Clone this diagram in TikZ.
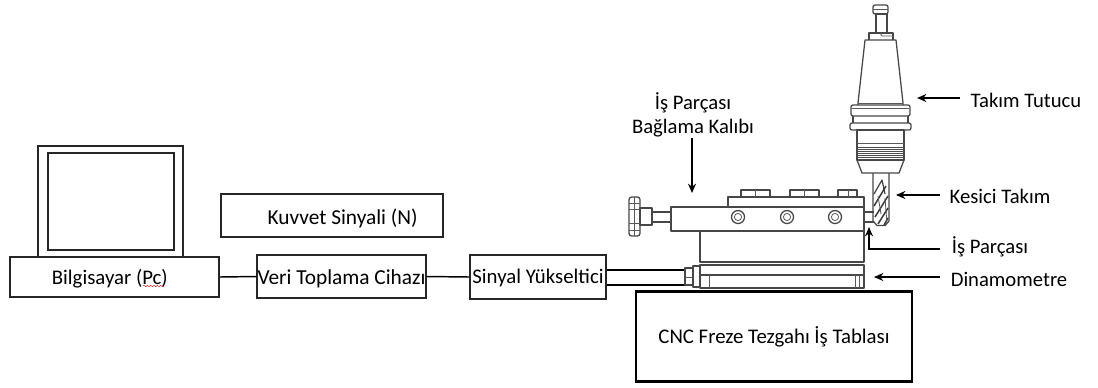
\documentclass[tikz,border=0pt]{standalone}
\usepackage{fontspec}
\setmainfont{Carlito}
\usetikzlibrary{arrows.meta,decorations.pathmorphing}
\newcommand{\lowered}[2]{\raisebox{-#1}[\height][\depth]{#2}}
\tikzset{
  box/.style={draw=black!85,line width=1.1pt,inner sep=0pt,rectangle,font=\fontsize{15.6}{18}\selectfont},
  widebox/.style={box,font=\fontsize{16}{18}\selectfont},
  heavybox/.style={draw=black,line width=2pt,inner sep=0pt,rectangle,font=\fontsize{15.6}{18}\selectfont},
  label/.style={inner sep=0pt,font=\fontsize{15.5}{18}\selectfont,align=center},
  wire/.style={draw=black,line width=1.1pt},
  cable/.style={draw=black,line width=1.4pt},
  pointer/.style={draw=black,line width=1.1pt,-{Stealth[length=7pt,width=6pt]}},
  mech/.style={draw=black!72,line width=.95pt,line join=round},
  fine/.style={draw=black!65,line width=.6pt},
}
\begin{document}
\begin{tikzpicture}[x=0.75pt,y=-0.75pt]
\useasboundingbox (0,0) rectangle (1098,387);

% --- monitor
\draw[box] (38,146) rectangle (183,257);
\draw[box] (48,153) rectangle (174,250);

% --- block chain
\node[box,minimum width=209*0.75pt,minimum height=40*0.75pt] (pc) at (114.5,277) {\lowered{1.5pt}{Bilgisayar (Pc)\hspace*{7pt}}};
\node[widebox,minimum width=222*0.75pt,minimum height=43*0.75pt] (kuvvet) at (332,215.5) {\lowered{2pt}{\hspace*{16pt}Kuvvet Sinyali (N)}};
\node[widebox,minimum width=169*0.75pt,minimum height=43*0.75pt] (veri) at (341.5,276.5) {\lowered{1.5pt}{Veri Toplama Cihazı}};
\node[box,minimum width=136*0.75pt,minimum height=44*0.75pt] (sinyal) at (538,277) {\lowered{1pt}{Sinyal Yükseltici}};
\node[heavybox,minimum width=276*0.75pt,minimum height=90*0.75pt] (cnc) at (774,336.5) {CNC Freze Tezgahı İş Tablası};
\draw[wire] (pc.east) -- (veri.west);
\draw[wire] (veri.east) -- (sinyal.west);

% spell-check squiggle
\draw[red!80!black,line width=.3pt,decorate,decoration={snake,amplitude=.5pt,segment length=2.5pt}] (143,286) -- (164,286);

% --- cables
\coordinate (plug) at (685,277);
\draw[cable] (sinyal.east |- 0,270) -- (plug |- 0,270);
\draw[cable] (sinyal.east |- 0,285) -- (plug |- 0,285);

% --- connector
\draw[mech] (685,268) rectangle (693,285);
\draw[fine] (685,277) -- (693,277);
\draw[mech] (693,266) rectangle (700,287);

% --- dynamometer
\draw[mech] (700,265) rectangle (864,288);
\draw[mech] (700,275) -- (864,275);
\draw[fine] (709,275) -- (709,288);
\draw[fine] (855,275) -- (855,288);
\draw[fine] (859,275) -- (859,288);
\draw[fine] (702,262.5) -- (862,262.5);

% --- middle block
\draw[mech] (700,231) rectangle (864,262);

% --- clamp body
\draw[mech] (671,207) rectangle (864,231);
\draw[mech] (728,207) -- (728,197) -- (864,197) -- (864,207);
\foreach \a/\b/\c in {741/755/770,790/804/819,838/848/857}{
  \draw[mech] (\a,197) -- (\a,190) -- (\c,190) -- (\c,197);
  \draw[fine] (\b,190) -- (\b,197);
}
\foreach \cx in {738,787,835}{
  \draw[mech] (\cx,217) circle[radius=6.5];
  \draw[fine] (\cx,217) circle[radius=3.6];
}

% --- knob and rod
\draw[mech] (652,212) rectangle (671,222);
\draw[mech] (640,208) rectangle (652,225);
\draw[mech,rounded corners=2pt] (629,197) rectangle (640,236);
\draw[fine] (634,197) -- (634,236);
\draw[fine] (629,209) -- (640,209);
\draw[fine] (629,223) -- (640,223);
\draw[fine] (629,203) -- (640,203);
\draw[fine] (629,230) -- (640,230);

% --- work piece pin
\draw[mech] (864,212) -- (874,212);
\draw[mech] (864,222) -- (874,222);

% --- end mill
\draw[mech] (873,173) -- (873,221) -- (877,225.5) -- (885,225.5) -- (889,221) -- (889,173);
\draw[mech] (874,194) -- (882,180) -- (885,194);
\draw[draw=black!78,line width=1.1pt] (874,206) -- (886,186);
\draw[draw=black!78,line width=1.1pt] (875,217) -- (888,196);
\draw[draw=black!78,line width=1.1pt] (878,224) -- (888,208);
\draw[draw=black!78,line width=1.1pt] (884,225) -- (888,218);
\draw[fine] (878,196) -- (881,214);
\draw[fine] (885,198) -- (887,224);

% --- tool holder
\draw[mech] (857,160) -- (862,173) -- (899,173) -- (904,160);
\draw[mech] (857,130) rectangle (904,160);
\draw[fine] (857,143) -- (904,143);
\foreach \ry in {147,149,151,153,155,157}{
  \draw[draw=black!70,line width=.7pt] (857,\ry) -- (904,\ry);
}
\draw[mech,rounded corners=1.5pt] (850,123) rectangle (911,130);
\draw[mech] (853,116) -- (853,123);
\draw[mech] (908,116) -- (908,123);
\draw[mech,rounded corners=1.5pt] (851,105) rectangle (910,116);
\draw[fine] (852,108) -- (909,108);
\draw[mech] (858,105) -- (858,103) -- (865,40) -- (896,40) -- (903,103) -- (903,105);
\draw[fine] (858,103) -- (903,103);
\draw[mech] (869,40) -- (869,33) -- (893,33) -- (893,40);
\draw[fine] (880,33) -- (882,36) -- (893,36);
\draw[mech] (876,33) -- (876,14) -- (887,14) -- (887,33);
\draw[mech,rounded corners=1.5pt] (873,5) rectangle (888,14);
\draw[fine] (873,9) -- (888,9);

% --- labels
\node[label] (tutucu) at (1026,100) {Takım Tutucu};
\node[label] (kesici) at (1000,196) {Kesici Takım};
\node[label] (parca) at (990,247) {İş Parçası};
\node[label] (dina) at (1009,279) {Dinamometre};
\node[label] (kalip) at (693,115) {İş Parçası\\Bağlama Kalıbı};

% --- pointers
\coordinate (tutucuS) at (960,98);   \coordinate (tutucuT) at (917,98);
\coordinate (kesiciS) at (940,195);  \coordinate (kesiciT) at (896,195);
\coordinate (parcaS) at (940,249);   \coordinate (parcaT) at (869,227);
\coordinate (dinaS) at (940,277);    \coordinate (dinaT) at (874,277);
\coordinate (kalipS) at (692,138);   \coordinate (kalipT) at (692,193);
\draw[pointer] (tutucuS) -- (tutucuT);
\draw[pointer] (kesiciS) -- (kesiciT);
\draw[pointer] (parcaS) -| (parcaT);
\draw[pointer] (dinaS) -- (dinaT);
\draw[pointer] (kalipS) -- (kalipT);
\end{tikzpicture}
\end{document}
